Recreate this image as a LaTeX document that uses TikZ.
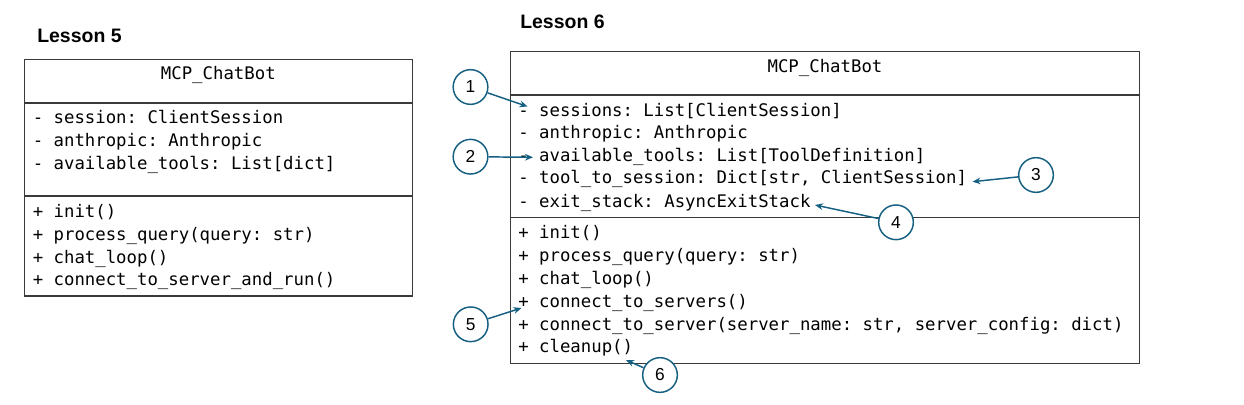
\documentclass[tikz,border=0pt]{standalone}
\usepackage{fontspec}
\setsansfont{Liberation Sans}
\setmonofont{DejaVu Sans Mono}
\usetikzlibrary{arrows.meta}
\definecolor{callout}{HTML}{156082}
\definecolor{frame}{HTML}{3A3A3A}

\begin{document}
\begin{tikzpicture}[x=0.75pt,y=-0.75pt,
  member/.style={anchor=west,inner sep=0pt,font=\ttfamily\fontsize{13}{15}\selectfont,text height=9.5pt,text depth=2.5pt},
  heading/.style={anchor=west,inner sep=0pt,font=\sffamily\bfseries\fontsize{14.6}{16}\selectfont},
  badge/.style={circle,draw=callout,line width=1.1pt,fill=white,minimum size=26pt,inner sep=0pt,font=\sffamily\fontsize{13}{15}\selectfont},
  pointer/.style={callout,line width=1.1pt,-{Stealth[length=6pt,width=5pt]}}]
  \useasboundingbox (0,0) rectangle (1244,404);

  % Lesson 5 class box
  \node[heading] (h5) at (37,36) {Lesson 5};
  \draw[frame,line width=0.9pt] (24.3,59.5) rectangle (412.3,296);
  \draw[frame,line width=0.9pt] (24.3,103) -- (412.3,103);
  \draw[frame,line width=0.9pt] (24.3,196) -- (412.3,196);
  \node[member,anchor=center] (t5) at (218.3,75) {MCP\_ChatBot};
  \foreach \y/\txt [count=\i] in {
    119.3/{- session: ClientSession},
    141.7/{- anthropic: Anthropic},
    165/{- available\_tools: List[dict]},
    212.7/{+ init()},
    236/{+ process\_query(query: str)},
    258.5/{+ chat\_loop()},
    281/{+ connect\_to\_server\_and\_run()}
  } {
    \node[member] (a\i) at (32.5,\y) {\txt};
  }

  % Lesson 6 class box
  \node[heading] (h6) at (520,22) {Lesson 6};
  \draw[frame,line width=0.9pt] (510.7,51.7) rectangle (1139.3,363.3);
  \draw[frame,line width=0.9pt] (510.7,95) -- (1139.3,95);
  \draw[frame,line width=0.9pt] (510.7,217.3) -- (1139.3,217.3);
  \node[member,anchor=center] (t6) at (825,68) {MCP\_ChatBot};
  \foreach \y/\txt [count=\i] in {
    111.7/{- sessions: List[ClientSession]},
    134/{- anthropic: Anthropic},
    156.7/{- available\_tools: List[ToolDefinition]},
    179.3/{- tool\_to\_session: Dict[str, ClientSession]},
    203/{- exit\_stack: AsyncExitStack},
    234/{+ init()},
    257.3/{+ process\_query(query: str)},
    280/{+ chat\_loop()},
    303.3/{+ connect\_to\_servers()},
    326/{+ connect\_to\_server(server\_name: str, server\_config: dict)},
    348.3/{+ cleanup()}
  } {
    \node[member] (b\i) at (518,\y) {\txt};
  }

  % numbered callouts
  \coordinate (p1) at (527.5,106.5);
  \coordinate (p2) at (533,157.3);
  \coordinate (p3) at (972.5,181.7);
  \coordinate (p4) at (815,205);
  \coordinate (p5) at (521.5,308);
  \coordinate (p6) at (626,360);
  \foreach \n/\x/\y in {1/470.5/87,2/470.5/156.7,3/1036/175,4/896/222.3,5/470.7/324.3,6/660/375} {
    \node[badge] (c\n) at (\x,\y) {\n};
    \draw[pointer] (c\n) -- (p\n);
  }
\end{tikzpicture}
\end{document}
